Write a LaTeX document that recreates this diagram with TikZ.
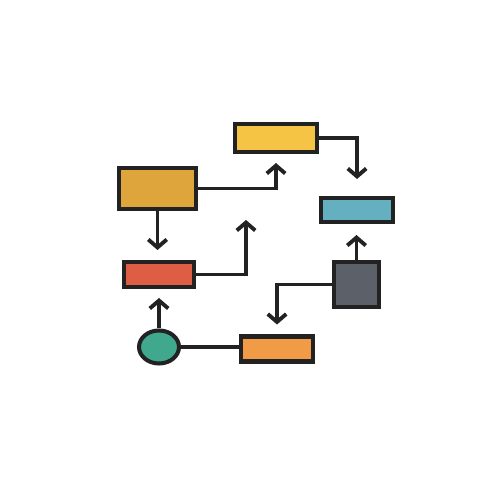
\documentclass[tikz,border=0pt]{standalone}
\usepackage{tikz}
\usetikzlibrary{shapes,arrows.meta,positioning}

\definecolor{inkline}{HTML}{222222}
\definecolor{sunyellow}{HTML}{F5C445}
\definecolor{ochre}{HTML}{DDA53B}
\definecolor{lagoon}{HTML}{65B0C0}
\definecolor{brick}{HTML}{DD5D45}
\definecolor{slate}{HTML}{5C6068}
\definecolor{jade}{HTML}{40A88D}
\definecolor{apricot}{HTML}{F29B46}

\begin{document}
\begin{tikzpicture}[
    blockbox/.style={rectangle, draw=inkline, line width=2.3pt, inner sep=0pt},
    roundbox/.style={ellipse, draw=inkline, line width=2.3pt, inner sep=0pt, fill=jade, minimum width=0.8cm, minimum height=0.66cm},
    arrow/.style={draw=inkline, line width=2.2pt, -{Straight Barb[length=4.5pt,width=10.5pt]}},
    link/.style={draw=inkline, line width=2.2pt}
]
\useasboundingbox (0,0) rectangle (10,10);

% Blocks
\node[blockbox, fill=ochre, minimum width=1.54cm, minimum height=0.82cm] (source) at (3.15,6.23) {};
\node[blockbox, fill=sunyellow, minimum width=1.64cm, minimum height=0.56cm] (upper) at (5.52,7.24) {};
\node[blockbox, fill=lagoon, minimum width=1.44cm, minimum height=0.48cm] (target) at (7.14,5.80) {};
\node[blockbox, fill=brick, minimum width=1.40cm, minimum height=0.50cm] (middle) at (3.18,4.51) {};
\node[blockbox, fill=slate, minimum width=0.90cm, minimum height=0.90cm] (square) at (7.13,4.31) {};
\node[blockbox, fill=apricot, minimum width=1.44cm, minimum height=0.50cm] (lower) at (5.54,3.02) {};

% Start
\node[roundbox] (start) at (3.18,3.06) {};

% Free end
\coordinate (loose) at (4.92,5.60);

% Arrows
\draw[arrow, shorten >=0.18cm] (source.east) -| (upper.south);
\draw[arrow, shorten >=0.34cm] (upper.east) -| (target.north);
\draw[arrow, shorten >=0.20cm] (source.south) -- (source.south |- middle.north);
\draw[arrow] (middle.east) -| (loose);
\draw[arrow, shorten >=0.22cm] (square.north) -- (square.north |- target.south);
\draw[arrow, shorten >=0.20cm] (square.west) -| (lower.north);
\draw[arrow, shorten >=0.18cm] (start.north) -- (start.north |- middle.south);
\draw[link] (start.east) -- (start.east -| lower.west);

\end{tikzpicture}
\end{document}
